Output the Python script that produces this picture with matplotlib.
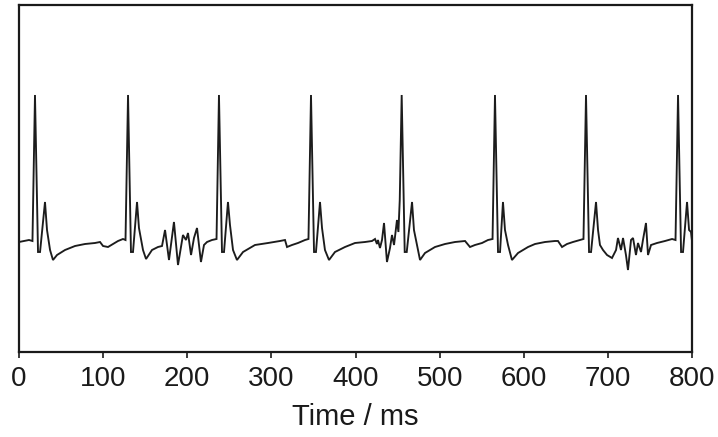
import matplotlib
matplotlib.use("Agg")
import matplotlib.pyplot as plt

# Time (ms) and signal amplitude (arbitrary units)
time_ms = [
    0.0, 5.9, 11.9, 16.0, 19.0, 22.6, 25.0, 30.9, 33.3, 36.9, 40.4, 45.2, 54.7, 66.6,
    78.5, 90.3, 96.3, 99.9, 105.8, 111.7, 117.7, 123.6, 126.6,
    129.6, 133.1, 135.5, 140.3, 142.6, 147.4, 151.0, 158.1, 165.2, 170.0, 173.6, 178.3,
    184.2, 189.0, 194.9, 198.5, 200.9, 204.5, 208.0, 211.6, 216.3, 219.9, 223.5, 229.4,
    234.8,
    237.7, 241.3, 243.7, 248.4, 250.8, 254.4, 259.1, 266.3, 280.5, 296.0, 310.2, 316.2,
    318.6, 324.5, 331.6, 340.0, 344.1,
    347.1, 350.7, 353.0, 357.8, 360.2, 363.7, 368.5, 375.6, 387.5, 399.4, 411.3, 419.6,
    423.2, 425.5, 426.7, 429.1, 431.5, 433.9, 437.4, 441.0, 443.4, 445.8, 449.3, 451.0,
    452.6,
    454.9, 458.5, 460.9, 467.2, 469.5, 473.1, 476.7, 482.6, 494.5, 506.4, 518.3, 530.2,
    536.1, 542.0, 550.4, 557.5, 562.9,
    565.8, 569.4, 571.8, 575.3, 577.7, 581.3, 586.0, 593.2, 605.1, 613.4, 625.3, 637.1,
    640.7, 645.5, 651.4, 658.5, 666.9, 671.0,
    674.0, 677.6, 680.0, 685.9, 688.3, 690.6, 694.2, 699.0, 704.9, 709.7, 712.0, 715.6,
    718.0, 721.5, 723.9, 727.5, 729.9, 733.4, 735.8, 739.4, 741.7, 745.3, 747.7, 751.3,
    758.4, 767.9, 776.3, 780.4,
    783.4, 787.0, 789.3, 794.1, 796.5, 798.8, 801.2,
]
signal = [
    -0.01, 0.00, 0.01, 0.00, 1.46, -0.11, -0.11, 0.39, 0.11, -0.09, -0.19, -0.14, -0.09, -0.05,
    -0.03, -0.02, -0.01, -0.05, -0.06, -0.03, 0.00, 0.02, 0.01,
    1.46, -0.11, -0.11, 0.39, 0.13, -0.09, -0.18, -0.09, -0.06, -0.05, 0.11, -0.19,
    0.19, -0.24, 0.06, 0.01, 0.08, -0.14, 0.03, 0.13, -0.21, -0.04, -0.01, 0.01,
    0.02,
    1.46, -0.11, -0.11, 0.39, 0.16, -0.09, -0.19, -0.11, -0.04, -0.02, 0.00, 0.01,
    -0.06, -0.04, -0.02, 0.01, 0.02,
    1.46, -0.11, -0.11, 0.39, 0.13, -0.09, -0.19, -0.11, -0.06, -0.02, -0.01, 0.00,
    0.02, -0.03, 0.01, -0.07, 0.01, 0.18, -0.21, -0.07, 0.06, -0.04, 0.21, 0.09,
    0.41,
    1.46, -0.11, -0.11, 0.39, 0.11, -0.04, -0.19, -0.12, -0.06, -0.03, -0.01, 0.00,
    -0.06, -0.04, -0.02, 0.01, 0.02,
    1.46, -0.11, -0.11, 0.39, 0.11, -0.04, -0.19, -0.12, -0.06, -0.03, -0.01, 0.00,
    0.00, -0.06, -0.03, -0.01, 0.01, 0.02,
    1.46, -0.11, -0.11, 0.39, 0.11, -0.04, -0.09, -0.14, -0.17, -0.09, 0.03, -0.09,
    0.03, -0.14, -0.29, 0.01, 0.03, -0.14, -0.02, -0.11, 0.01, 0.18, -0.14, -0.04,
    -0.02, 0.00, 0.02, 0.01,
    1.46, -0.11, -0.11, 0.39, 0.11, 0.09, -0.09,
]
x_ticks = [0, 100, 200, 300, 400, 500, 600, 700, 800]
x_label = "Time / ms"

plt.rcParams["font.family"] = ["Liberation Sans", "DejaVu Sans"]

fig = plt.figure(figsize=(7.18, 4.37), dpi=100)
ax = fig.add_axes([19 / 718, 1 - 352 / 437, 673 / 718, 347 / 437])
ax.plot(time_ms, signal, color="#1c1c1c", lw=1.35, solid_joinstyle="miter")
ax.set_xlim(0, 800)
ax.set_ylim(-1.11, 2.36)
ax.set_yticks([])
ax.set_xticks(x_ticks)
ax.set_xticklabels([str(v) for v in x_ticks])
ax.tick_params(axis="x", direction="out", length=4, width=1.2, labelsize=20, pad=6,
               colors="#1a1a1a")
for s in ax.spines.values():
    s.set_linewidth(1.6)
    s.set_color("#1a1a1a")
ax.set_xlabel(x_label, fontsize=21, labelpad=8, color="#1a1a1a")
fig.savefig("out.png", dpi=100)
